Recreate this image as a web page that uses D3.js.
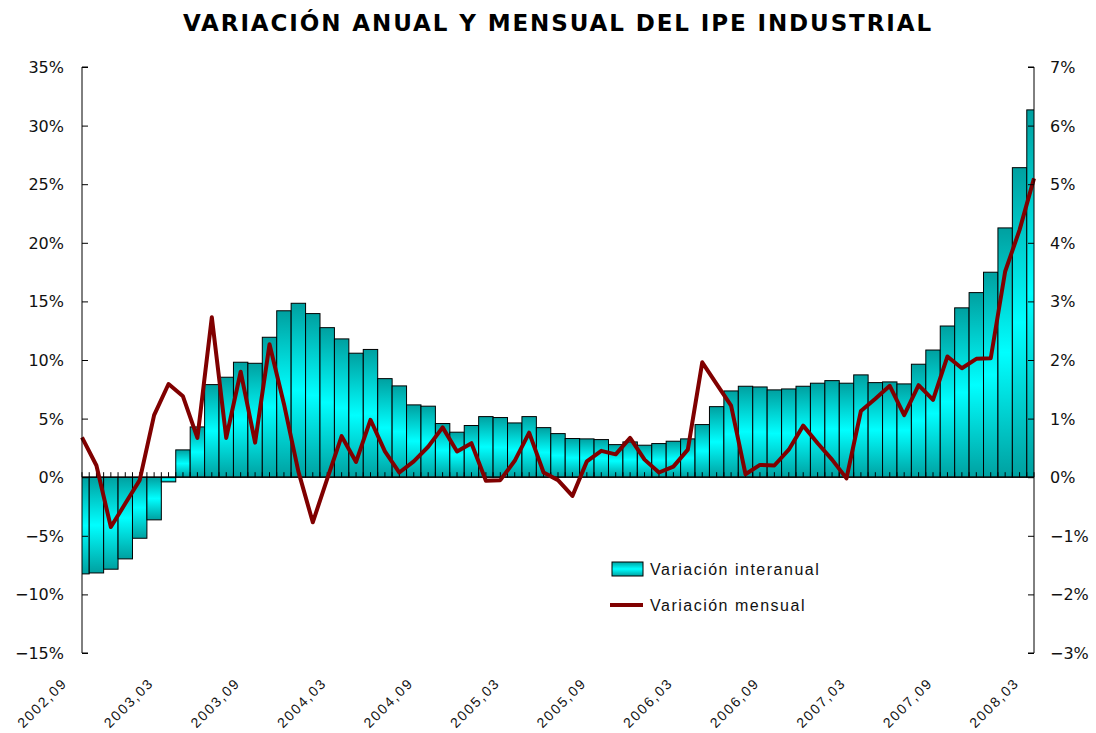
<!DOCTYPE html>
<html>
<head>
<meta charset="utf-8">
<script src="https://cdn.jsdelivr.net/npm/d3@7"></script>
<style>
  body { margin: 0; background: #fff; }
  svg { display: block; }
</style>
</head>
<body>
<div id="chart"></div>
<script>
const width = 1096;
const height = 733;

// monthly categories, 2002-09 .. 2008-03
const months = d3.utcMonth.range(new Date(Date.UTC(2002, 8, 1)), new Date(Date.UTC(2008, 3, 1)));
const fmt = d3.utcFormat("%Y,%m");
const tickLabels = ["2002,09", "2003,03", "2003,09", "2004,03", "2004,09", "2005,03",
    "2005,09", "2006,03", "2006,09", "2007,03", "2007,09", "2008,03"];

// Variación interanual (%), left axis
const interanual = [
    -8.25, -8.17, -7.85, -6.97, -5.21, -3.64, -0.40, 2.33, 4.29, 7.90,
    8.53, 9.81, 9.72, 11.94, 14.20, 14.84, 13.96, 12.76, 11.80, 10.58,
    10.90, 8.41, 7.79, 6.17, 6.06, 4.58, 3.84, 4.41, 5.17, 5.09,
    4.63, 5.17, 4.23, 3.72, 3.30, 3.27, 3.21, 2.78, 3.01, 2.73,
    2.87, 3.07, 3.27, 4.49, 6.02, 7.36, 7.76, 7.70, 7.45, 7.53,
    7.76, 8.02, 8.24, 8.02, 8.73, 8.07, 8.13, 7.96, 9.64, 10.85,
    12.90, 14.45, 15.75, 17.49, 21.27, 26.41, 31.34
];

// Variación mensual (%), right axis
const mensual = [
    0.68, 0.20, -0.85, -0.45, -0.05, 1.06, 1.59, 1.38, 0.67, 2.73,
    0.67, 1.80, 0.59, 2.27, 1.25, 0.10, -0.77, -0.03, 0.70, 0.26,
    0.98, 0.44, 0.08, 0.27, 0.52, 0.85, 0.44, 0.58, -0.06, -0.05,
    0.28, 0.76, 0.08, -0.05, -0.32, 0.27, 0.45, 0.39, 0.67, 0.30,
    0.08, 0.18, 0.47, 1.96, 1.59, 1.22, 0.05, 0.21, 0.20, 0.47,
    0.88, 0.58, 0.30, -0.02, 1.13, 1.34, 1.56, 1.06, 1.57, 1.32,
    2.06, 1.86, 2.02, 2.03, 3.51, 4.22, 5.10
];

const leftTicks = [-15, -10, -5, 0, 5, 10, 15, 20, 25, 30, 35];
const rightTicks = [-3, -2, -1, 0, 1, 2, 3, 4, 5, 6, 7];

const plot = { left: 82, right: 1034, top: 67, bottom: 653 };

const categories = months.map(fmt);

const x = d3.scalePoint()
    .domain(categories)
    .range([plot.left, plot.right]);
const step = x.step();

const yL = d3.scaleLinear().domain([-15, 35]).range([plot.bottom, plot.top]);
const yR = d3.scaleLinear().domain([-3, 7]).range([plot.bottom, plot.top]);

const pct = v => (v < 0 ? "\u2212" + Math.abs(v) : v) + "%";

const svg = d3.select("#chart")
    .append("svg")
    .attr("width", width)
    .attr("height", height);

const defs = svg.append("defs");
const grad = defs.append("linearGradient")
    .attr("id", "barGrad")
    .attr("x1", 0).attr("y1", 0).attr("x2", 0).attr("y2", 1);
grad.append("stop").attr("offset", "0%").attr("stop-color", "#00a0a0");
grad.append("stop").attr("offset", "50%").attr("stop-color", "#00ffff");
grad.append("stop").attr("offset", "100%").attr("stop-color", "#00a0a0");

defs.append("clipPath").attr("id", "plotClip")
    .append("rect")
    .attr("x", plot.left).attr("y", plot.top - 5)
    .attr("width", plot.right - plot.left)
    .attr("height", plot.bottom - plot.top + 10);

// title
svg.append("text")
    .attr("x", 558)
    .attr("y", 31)
    .attr("text-anchor", "middle")
    .attr("font-family", "DejaVu Sans, Verdana, sans-serif")
    .attr("font-weight", "bold")
    .attr("font-size", 23)
    .attr("letter-spacing", 1.9)
    .attr("fill", "#000")
    .text("VARIACIÓN ANUAL Y MENSUAL DEL IPE INDUSTRIAL");

// bars
const bars = svg.append("g").attr("clip-path", "url(#plotClip)");
bars.selectAll("rect")
    .data(interanual)
    .enter().append("rect")
    .attr("x", (d, i) => x(categories[i]) - step / 2)
    .attr("width", step)
    .attr("y", d => Math.min(yL(d), yL(0)))
    .attr("height", d => Math.abs(yL(d) - yL(0)))
    .attr("fill", "url(#barGrad)")
    .attr("stroke", "#000")
    .attr("stroke-width", 1);

// zero line with small ticks
svg.append("line")
    .attr("x1", plot.left).attr("x2", plot.right)
    .attr("y1", yL(0)).attr("y2", yL(0))
    .attr("stroke", "#000")
    .attr("stroke-width", 1.2);

const halfTicks = d3.range(0, categories.length * 2 - 1).map(k => plot.left + k * step / 2);
svg.append("g").selectAll("line")
    .data(halfTicks)
    .enter().append("line")
    .attr("x1", d => d).attr("x2", d => d)
    .attr("y1", yL(0)).attr("y2", yL(0) - 5)
    .attr("stroke", "#000")
    .attr("stroke-width", 1);

// line
const line = d3.line()
    .x((d, i) => x(categories[i]))
    .y(d => yR(d));

svg.append("path")
    .datum(mensual)
    .attr("d", line)
    .attr("fill", "none")
    .attr("stroke", "#800000")
    .attr("stroke-width", 4)
    .attr("stroke-linejoin", "round");

// axes
const axisFont = "DejaVu Sans, Verdana, sans-serif";

const gL = svg.append("g")
    .attr("transform", `translate(${plot.left},0)`)
    .call(d3.axisRight(yL).tickValues(leftTicks).tickSize(6).tickFormat(""));
gL.select(".domain").attr("d", `M6,${plot.top}H0V${plot.bottom}H6`);

svg.append("g").selectAll("text")
    .data(leftTicks)
    .enter().append("text")
    .attr("x", 64)
    .attr("y", d => yL(d) + 6)
    .attr("text-anchor", "end")
    .attr("font-family", axisFont)
    .attr("font-size", 16)
    .attr("fill", "#111")
    .text(pct);

const gR = svg.append("g")
    .attr("transform", `translate(${plot.right},0)`)
    .call(d3.axisLeft(yR).tickValues(rightTicks).tickSize(6).tickFormat(""));
gR.select(".domain").attr("d", `M-6,${plot.top}H0V${plot.bottom}H-6`);

svg.append("g").selectAll("text")
    .data(rightTicks)
    .enter().append("text")
    .attr("x", 1050)
    .attr("y", d => yR(d) + 6)
    .attr("text-anchor", "start")
    .attr("font-family", axisFont)
    .attr("font-size", 16)
    .attr("fill", "#111")
    .text(pct);

[gL, gR].forEach(g => {
    g.selectAll("line").attr("stroke", "#000");
    g.select(".domain").attr("stroke", "#000");
});

// x labels
svg.append("g").selectAll("text")
    .data(tickLabels)
    .enter().append("text")
    .attr("transform", d => `translate(${x(d) - 14},${plot.bottom + 31}) rotate(-45)`)
    .attr("text-anchor", "end")
    .attr("font-family", "Liberation Sans, Arial, sans-serif")
    .attr("font-size", 14)
    .attr("letter-spacing", 1.8)
    .attr("fill", "#111")
    .text(d => d);

// legend
const legend = svg.append("g")
    .attr("font-family", "Liberation Sans, Arial, sans-serif")
    .attr("font-size", 16)
    .attr("letter-spacing", 1.5)
    .attr("fill", "#111");

legend.append("rect")
    .attr("x", 612).attr("y", 562)
    .attr("width", 31).attr("height", 14)
    .attr("fill", "url(#barGrad)")
    .attr("stroke", "#000");
legend.append("text")
    .attr("x", 650).attr("y", 575)
    .text("Variación interanual");

legend.append("line")
    .attr("x1", 610).attr("x2", 643)
    .attr("y1", 605).attr("y2", 605)
    .attr("stroke", "#800000")
    .attr("stroke-width", 4);
legend.append("text")
    .attr("x", 650).attr("y", 611)
    .text("Variación mensual");
</script>
</body>
</html>
